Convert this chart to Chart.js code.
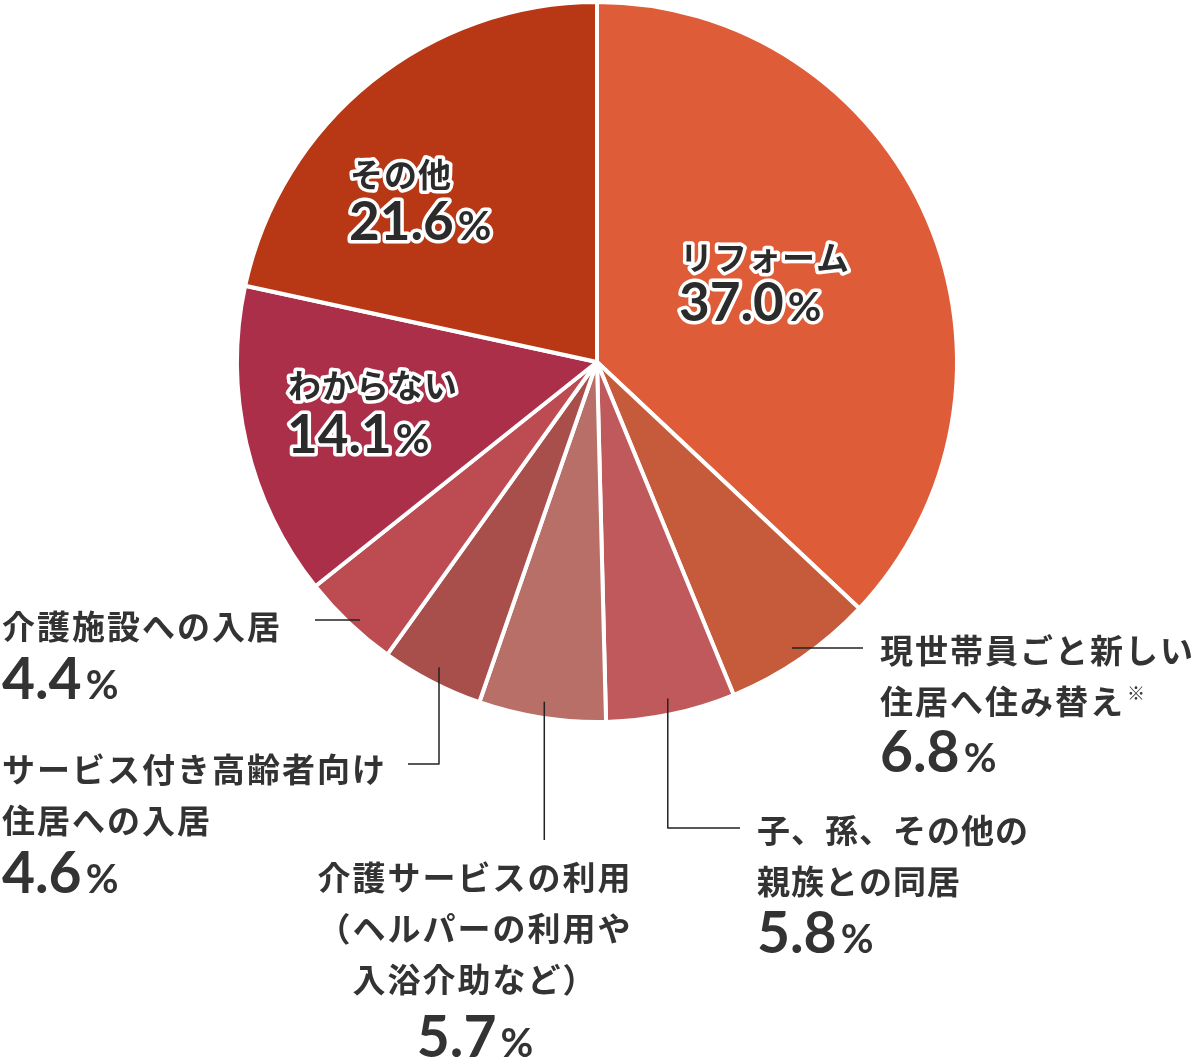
<!DOCTYPE html>
<html lang="ja">
<head>
  <meta charset="UTF-8">
  <title>住まいの今後の予定</title>
  <script src="https://cdn.jsdelivr.net/npm/chart.js"></script>
  <style>
    body { margin: 0; background: #fff; }
    #wrap { width: 1191px; height: 1061px; }
  </style>
</head>
<body>
  <div id="wrap"><canvas id="pieChart" width="1191" height="1061"></canvas></div>

  <script>
    // data (clockwise from 12 o'clock)
    const categories = [
      'リフォーム',
      '現世帯員ごと新しい\n住居へ住み替え',
      '子、孫、その他の\n親族との同居',
      '介護サービスの利用\n（ヘルパーの利用や\n入浴介助など）',
      'サービス付き高齢者向け\n住居への入居',
      '介護施設への入居',
      'わからない',
      'その他'
    ];
    const values = [37.0, 6.8, 5.8, 5.7, 4.6, 4.4, 14.1, 21.6];
    const colors = ['#de5c38', '#c55b3a', '#c0595b', '#b86f68', '#a84f4c', '#bc4c52', '#ac2f4a', '#b83714'];
    const footnoteMark = [false, true, false, false, false, false, false, false];

    // label placement (layout only)
    const labelLayout = [
      { inside: true, x: 680, y: 257, valY: 302 },
      { x: 880, y: 650, valBase: 772, align: 'left', leader: 'h', lineY: 648, toX: 863 },
      { x: 757, y: 830, valBase: 953, align: 'left', leader: 'vh', toY: 828, toX: 740, spacing: 1 },
      { x: 475, y: 877, valBase: 1057, align: 'center', leader: 'v', toY: 840 },
      { x: 2, y: 769, valBase: 893, align: 'left', leader: 'vh', toY: 764, toX: 408 },
      { x: 2, y: 626, valBase: 699, align: 'left', leader: 'h', lineY: 620, toX: 315 },
      { inside: true, x: 288, y: 385, valY: 434 },
      { inside: true, x: 350, y: 174, valY: 221 }
    ];

    const JP = '"Noto Sans CJK JP", "Noto Sans", sans-serif';
    const NUM = 'Lato, "Noto Sans", sans-serif';

    function drawValue(ctx, text, x, baseline, align, big, small, inside) {
      ctx.textBaseline = 'alphabetic';
      ctx.letterSpacing = '0px';
      ctx.font = 'bold ' + big + 'px ' + NUM;
      const wNum = ctx.measureText(text).width;
      ctx.font = 'bold ' + small + 'px ' + NUM;
      const wPct = ctx.measureText('%').width;
      const gap = 4;
      let left = x;
      if (align === 'center') left = x - (wNum + gap + wPct) / 2;
      ctx.textAlign = 'left';
      const parts = [[text, big, left], ['%', small, left + wNum + gap]];
      parts.forEach(p => {
        ctx.font = 'bold ' + p[1] + 'px ' + NUM;
        if (inside) {
          ctx.lineWidth = 7;
          ctx.strokeStyle = '#fff';
          ctx.lineJoin = 'round';
          ctx.strokeText(p[0], p[2], baseline);
        }
        ctx.fillText(p[0], p[2], baseline);
      });
    }

    const labelPlugin = {
      id: 'pieLabels',
      afterDraw(chart) {
        const ctx = chart.ctx;
        const meta = chart.getDatasetMeta(0);
        ctx.save();
        meta.data.forEach((arc, i) => {
          const L = labelLayout[i];
          const p = arc.getProps(['x', 'y', 'startAngle', 'endAngle', 'outerRadius'], true);
          const mid = (p.startAngle + p.endAngle) / 2;
          const text = values[i].toFixed(1);

          if (L.inside) {
            ctx.fillStyle = '#2b2b2b';
            ctx.font = 'bold 33px ' + JP;
            ctx.letterSpacing = '1px';
            ctx.textAlign = 'left';
            ctx.textBaseline = 'middle';
            ctx.lineWidth = 7;
            ctx.lineJoin = 'round';
            ctx.strokeStyle = '#fff';
            ctx.strokeText(categories[i], L.x, L.y);
            ctx.fillText(categories[i], L.x, L.y);
            drawValue(ctx, text, L.x - 1, L.valY + 19, 'left', 53, 41, true);
            return;
          }

          // leader line from inside the slice
          const r = p.outerRadius * 0.955;
          const sx = p.x + Math.cos(mid) * r;
          const sy = p.y + Math.sin(mid) * r;
          ctx.strokeStyle = '#222';
          ctx.lineWidth = 1.5;
          ctx.beginPath();
          if (L.leader === 'h') { ctx.moveTo(sx, L.lineY); ctx.lineTo(L.toX, L.lineY); }
          if (L.leader === 'v') { ctx.moveTo(sx, sy); ctx.lineTo(sx, L.toY); }
          if (L.leader === 'vh') { ctx.moveTo(sx, sy); ctx.lineTo(sx, L.toY); ctx.lineTo(L.toX, L.toY); }
          ctx.stroke();

          // category text
          ctx.fillStyle = '#333';
          ctx.font = 'bold 33px ' + JP;
          ctx.letterSpacing = (L.spacing !== undefined ? L.spacing : 2) + 'px';
          ctx.textAlign = L.align;
          ctx.textBaseline = 'middle';
          const lines = categories[i].split('\n');
          lines.forEach((ln, k) => {
            ctx.fillText(ln, L.x, L.y + k * 51);
          });
          if (footnoteMark[i]) {
            const last = lines[lines.length - 1];
            const w = ctx.measureText(last).width;
            ctx.font = '18px ' + JP;
            ctx.letterSpacing = '0px';
            ctx.textAlign = 'left';
            ctx.fillText('※', L.x + w + 2, L.y + (lines.length - 1) * 51 - 8);
          }
          ctx.fillStyle = '#333';
          drawValue(ctx, text, L.x, L.valBase, L.align, 57, 40, false);
        });
        ctx.restore();
      }
    };

    const chart = new Chart(document.getElementById('pieChart'), {
      type: 'pie',
      data: {
        labels: categories,
        datasets: [{
          data: values,
          backgroundColor: colors,
          borderColor: '#ffffff',
          borderWidth: 4,
          hoverOffset: 0
        }]
      },
      options: {
        responsive: false,
        animation: false,
        layout: { padding: { left: 233, right: 230, top: -4, bottom: 337 } },
        plugins: {
          legend: { display: false },
          tooltip: { enabled: false }
        }
      },
      plugins: [labelPlugin]
    });
  </script>
</body>
</html>
